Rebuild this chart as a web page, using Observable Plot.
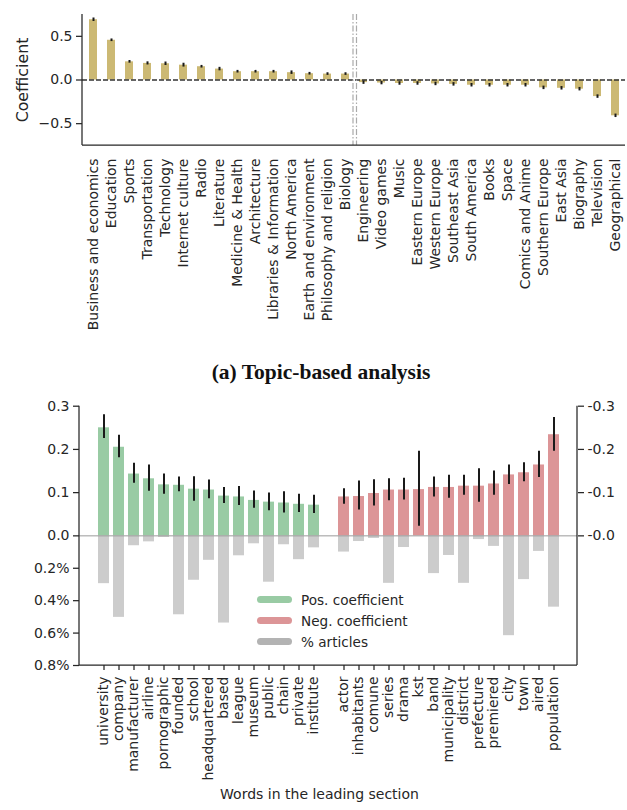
<!DOCTYPE html>
<html><head><meta charset="utf-8">
<script src="https://cdn.jsdelivr.net/npm/d3@7"></script>
<script src="https://cdn.jsdelivr.net/npm/@observablehq/plot@0.6"></script>
<style>
body{margin:0;background:#fff;font-family:"DejaVu Sans",sans-serif;color:#262626}
#wrap{position:relative;width:627px;height:810px;overflow:hidden}
#top,#bottom{position:absolute;left:0}
#top{top:0}
#bottom{top:390px}
#caption{position:absolute;top:360px;left:0;width:642px;text-align:center;font:bold 21.5px "Liberation Serif",serif;color:#111}
#legend{position:absolute;left:257px;top:589px;font-size:13.6px;color:#262626}
.li{height:21px;display:flex;align-items:center}
.sw{width:35px;height:7px;border-radius:4px;margin-right:9px}
svg text{fill:#262626}
</style></head><body><div id="wrap">
<div id="top"></div>
<div id="caption">(a) Topic-based analysis</div>
<div id="bottom"></div>
<div id="legend"></div>
</div>
<script>
// ---------- (a) topic-based analysis ----------
const topics = ["Business and economics","Education","Sports","Transportation","Technology","Internet culture","Radio","Literature","Medicine & Health","Architecture","Libraries & Information","North America","Earth and environment","Philosophy and religion","Biology","Engineering","Video games","Music","Eastern Europe","Western Europe","Southeast Asia","South America","Books","Space","Comics and Anime","Southern Europe","East Asia","Biography","Television","Geographical"];
const topicCoef = [0.69,0.455,0.208,0.19,0.186,0.17,0.152,0.125,0.095,0.095,0.095,0.084,0.072,0.068,0.068,-0.03,-0.035,-0.04,-0.04,-0.045,-0.05,-0.06,-0.06,-0.06,-0.06,-0.09,-0.095,-0.105,-0.19,-0.41];
const topicErr = [0.02,0.015,0.015,0.018,0.02,0.022,0.015,0.02,0.015,0.015,0.015,0.02,0.015,0.015,0.015,0.02,0.02,0.02,0.02,0.02,0.02,0.02,0.02,0.02,0.02,0.02,0.02,0.02,0.02,0.02];
const topicTicks = [-0.5, 0, 0.5];
const splitTopic = "Engineering";

// ---------- (b) words ----------
const posWords = ["university","company","manufacturer","airline","pornographic","founded","school","headquartered","based","league","museum","public","chain","private","institute"];
const posCoef = [0.250,0.205,0.143,0.132,0.118,0.117,0.108,0.106,0.092,0.090,0.082,0.078,0.076,0.073,0.071];
const posLo = [0.225,0.181,0.122,0.103,0.096,0.102,0.080,0.086,0.075,0.070,0.064,0.058,0.053,0.054,0.052];
const posHi = [0.280,0.233,0.168,0.164,0.143,0.136,0.137,0.129,0.112,0.114,0.104,0.099,0.102,0.096,0.094];
const posPct = [0.295,0.503,0.061,0.037,0.010,0.487,0.274,0.151,0.538,0.123,0.049,0.286,0.055,0.147,0.074];

const negWords = ["actor","inhabitants","comune","series","drama","kst","band","municipality","district","prefecture","premiered","city","town","aired","population"];
const negCoef = [0.090,0.091,0.098,0.106,0.106,0.107,0.112,0.112,0.115,0.115,0.120,0.141,0.146,0.164,0.234];
const negLo = [0.073,0.060,0.069,0.081,0.083,0.022,0.090,0.087,0.094,0.078,0.094,0.119,0.125,0.135,0.196];
const negHi = [0.109,0.127,0.130,0.132,0.133,0.196,0.136,0.140,0.140,0.155,0.150,0.164,0.169,0.196,0.274];
const negPct = [0.100,0.035,0.016,0.293,0.072,0.000,0.233,0.121,0.293,0.023,0.065,0.616,0.270,0.096,0.440];

const coefTicks = [0, 0.1, 0.2, 0.3];
const pctTicks = [0.2, 0.4, 0.6, 0.8];
const legendItems = ["Pos. coefficient","Neg. coefficient","% articles"];

const tan = "#ccb974", green = "#99cba4", red = "#dc9597", grey = "#cccccc", greyLegend = "#b3b3b3";

// spines helper (render-function mark)
function spines(sides) {
  return (index, scales, values, dim) => {
    const g = d3.create("svg:g").attr("stroke", "#262626").attr("stroke-width", 1.25).attr("fill", "none");
    const l = dim.marginLeft, r = dim.width - dim.marginRight, t = dim.marginTop, b = dim.height - dim.marginBottom;
    if (sides.includes("left")) g.append("line").attr("x1", l).attr("x2", l).attr("y1", t).attr("y2", b);
    if (sides.includes("right")) g.append("line").attr("x1", r).attr("x2", r).attr("y1", t).attr("y2", b);
    if (sides.includes("bottom")) g.append("line").attr("x1", l).attr("x2", r).attr("y1", b).attr("y2", b);
    return g.node();
  };
}

const topicData = topics.map((t, i) => ({topic: t, coef: topicCoef[i], lo: topicCoef[i] - topicErr[i], hi: topicCoef[i] + topicErr[i]}));

const topPlot = Plot.plot({
  width: 627, height: 345,
  marginTop: 14, marginBottom: 200, marginLeft: 82, marginRight: 2,
  style: {fontFamily: "DejaVu Sans", fontSize: "14px", color: "#262626", background: "transparent"},
  x: {type: "band", domain: topics, paddingInner: 0.56, paddingOuter: 0.29, axis: null},
  y: {domain: [-0.75, 0.75], axis: null},
  marks: [
    Plot.barY(topicData, {x: "topic", y: "coef", fill: tan}),
    Plot.ruleX(topicData, {x: "topic", y1: "lo", y2: "hi", stroke: "#1a1a1a", strokeWidth: 2}),
    Plot.ruleY([0], {stroke: "#333", strokeWidth: 1.5, strokeDasharray: "5,2"}),
    Plot.ruleX([splitTopic], {dx: -10.5, stroke: "#aaa", strokeWidth: 1.2, strokeDasharray: "6,2,1.5,2"}),
    Plot.ruleX([splitTopic], {dx: -7, stroke: "#aaa", strokeWidth: 1.2, strokeDasharray: "6,2,1.5,2"}),
    spines(["left", "bottom"]),
    Plot.axisY(topicTicks, {anchor: "left", tickSize: 6, tickPadding: 4, fontSize: 14, tickFormat: d3.format(".1f"), stroke: "#262626", strokeWidth: 1.25, label: null}),
    Plot.axisX({anchor: "bottom", tickSize: 0, tickPadding: 13, tickRotate: -90, fontSize: 14, label: null}),
    Plot.text(["Coefficient"], {frameAnchor: "left", dx: -60, rotate: -90, textAnchor: "middle", fontSize: 15.8, fill: "#262626"})
  ]
});
document.getElementById("top").appendChild(topPlot);

// bottom chart data
const k = 0.3 / 0.8; // percent -> lower half units
const spacer = " ";
const wordDomain = [...posWords, spacer, ...negWords];
const coefRows = [
  ...posWords.map((w, i) => ({word: w, coef: posCoef[i], lo: posLo[i], hi: posHi[i], pct: posPct[i], sign: "pos"})),
  ...negWords.map((w, i) => ({word: w, coef: negCoef[i], lo: negLo[i], hi: negHi[i], pct: negPct[i], sign: "neg"}))
];
const leftTickVals = [...coefTicks, ...pctTicks.map(p => -p * k)];
const leftTickLabel = v => v >= 0 ? v.toFixed(1) : (-v / k).toFixed(1) + "%";

const bottomPlot = Plot.plot({
  width: 627, height: 420,
  marginTop: 15.7, marginBottom: 145, marginLeft: 79, marginRight: 50,
  style: {fontFamily: "DejaVu Sans", fontSize: "14px", color: "#262626", background: "transparent"},
  x: {type: "band", domain: wordDomain, paddingInner: 0.3, paddingOuter: 0.6, axis: null},
  y: {domain: [-0.3, 0.3], axis: null},
  marks: [
    Plot.barY(coefRows, {x: "word", y: d => -d.pct * k, fill: grey}),
    Plot.barY(coefRows, {x: "word", y: "coef", fill: d => d.sign === "pos" ? green : red}),
    Plot.ruleY([0], {stroke: "#9a9a9a", strokeWidth: 1}),
    Plot.ruleX(coefRows, {x: "word", y1: "lo", y2: "hi", stroke: "#1a1a1a", strokeWidth: 2}),
    spines(["left", "right", "bottom"]),
    Plot.axisY(leftTickVals, {anchor: "left", tickSize: 6, tickPadding: 4, fontSize: 14, tickFormat: leftTickLabel, stroke: "#262626", strokeWidth: 1.25, label: null}),
    Plot.axisY(coefTicks, {anchor: "right", tickSize: 6, tickPadding: 4, fontSize: 14, tickFormat: v => "-" + v.toFixed(1), stroke: "#262626", strokeWidth: 1.25, label: null}),
    Plot.axisX([...posWords, ...negWords], {anchor: "bottom", tickSize: 5, tickPadding: 6, tickRotate: -90, fontSize: 14, stroke: "#262626", strokeWidth: 1.25, label: null}),
    Plot.text(["Words in the leading section"], {frameAnchor: "bottom", dy: 133, dx: -9, fontSize: 14, fill: "#262626"})
  ]
});
document.getElementById("bottom").appendChild(bottomPlot);

// legend
const legendColors = [green, red, greyLegend];
const leg = document.getElementById("legend");
legendItems.forEach((t, i) => {
  const row = document.createElement("div"); row.className = "li";
  const sw = document.createElement("span"); sw.className = "sw"; sw.style.background = legendColors[i];
  const tx = document.createElement("span"); tx.textContent = t;
  row.appendChild(sw); row.appendChild(tx); leg.appendChild(row);
});
</script>
</body></html>
